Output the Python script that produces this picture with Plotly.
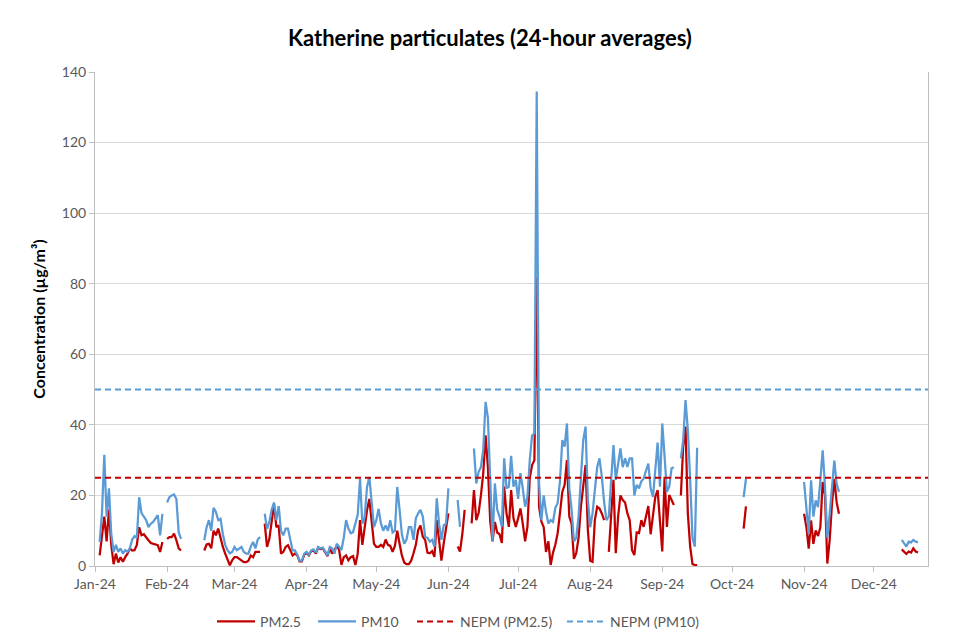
import pandas as pd
import plotly.graph_objects as go

N = None

# Katherine 24-hour averages (µg/m³), one value per day, None = no data
pm10_jan = [N, N, 6.8, 15, 31.5, 14, 22, 9, 4, 6, 4, 5, 3.5, 4.5, 4, 5, 7.5, 8.5, 8, 19.5,
            15, 14, 13, 11, 12, 12.5, 13.5, 14.4, 8.7, 14.8, N]
pm25_jan = [N, N, 3, 9, 14, 7, 16, 6, 0.5, 3.5, 1, 2.5, 1.2, 2.5, 3.5, 5, 4.4, 4.5, 6, 11,
            8.7, 9, 8, 7.3, 6.5, 6.3, 6.3, 5.9, 4, 6.8, N]

pm10_feb = [18, 19.5, 20, 20.3, 19, 9.5, 7.7, N, N, N, N, N, N, N, N, N,
            7.3, 11, 13, 10, 16.5, 15.3, 13, 13.4, 9, 6, 4.5, 3.6, 4]
pm25_feb = [7.7, 8.2, 8.2, 9.2, 7.3, 5, 4.4, N, N, N, N, N, N, N, N, N,
            4.4, 6.1, 6.3, 5, 10, 8.7, 10.6, 7.7, 5.4, 3.5, 1.6, 0.2, 1.6]

pm10_mar = [5.4, 4.5, 4.9, 5.4, 4, 3.5, 3.5, 5.5, 6.8, 5, 7.5, 8.2, N, 14.8, 10.5, 12.5,
            16, 18, 13, 17, 10, 8.7, 10.6, 10.6, 7, 4.4, 4.4, 3.2, 1.5, 1.5, 3.5]
pm25_mar = [2.5, 2.5, 2, 1.6, 1.1, 1.1, 1.5, 3, 2.5, 4, 4, 4, N, 12, 5.4, 7.7,
            13, 17.5, 11, 11.5, 3.5, 4, 5.4, 5.9, 4.5, 3, 3.5, 3, 1.3, 1.3, 3.2]

pm10_apr = [4, 3.2, 4.4, 4.7, 3.8, 5.4, 5, 5.2, 4, 3, 5.4, 5, 3.5, 6.3, 5.5, 4.5,
            8, 13, 10.6, 9.3, 9.6, 12, 14.5, 24.7, 12, 13.9, 22.4, 25.2, 19, 11]
pm25_apr = [3.7, 3, 4.2, 4.4, 3.5, 5.2, 4.8, 5, 3.8, 2.8, 5, 3.5, 4.4, 5.9, 4.5, 0.3,
            2.5, 3, 1.6, 2.5, 2.8, 0.3, 3.5, 13, 6, 11, 15.8, 19, 13, 6.3]

pm10_may = [13, 16.2, 12, 10, 11.5, 10, 13, 9.5, 10, 22.4, 16, 9, 6.3, 7.5, 11, 11,
            7.4, 13.5, 14.9, 15.9, 14, 8.3, 8, 6.9, 7.4, 5.5, 19.2, 12, 7.4, 11.6, 12]
pm25_may = [5.4, 5.4, 6, 5.4, 7.5, 6, 5.7, 4, 5.7, 10, 6.3, 3, 1, 0.5, 0.5, 1.5,
            3.6, 6, 10.2, 11.5, 8.3, 7.4, 3.8, 3.6, 4.2, 2.6, 13, 6.4, 1.5, 6.4, 10.2]

pm10_jun = [22, N, N, N, 18.7, 11.1, N, N, N, N, N, 33.3, 23.4, 26.7, 28, 33,
            46.5, 42, 24, 7, 23.4, 16, 14, 11.1, 30.5, 22, 22.5, 31.2, 22.5, 24.4]
pm25_jun = [14.9, N, N, N, 5.5, 4.1, 9, 15.9, N, N, 12.1, 21.5, 13, 15, 20, 26.3,
            37, 28, 12.6, 7, 12.5, 9.5, 9, 6.5, 22.5, 15, 11.1, 21.5, 13.5, 11.1]

pm10_jul = [19, 26.3, 22, 16.8, 19.6, 30, 37, 37.6, 134.5, 23.4, 13, 20, 15.4, 12, 13, 12.5,
            16.5, 17.8, 24, 35.7, 33.8, 40.4, 22, 16, 7, 8, 14, 24.4, 35.7, 39.5, 18.7]
pm25_jul = [13.5, 16.3, 12, 7, 11.1, 25, 28.6, 30, 82, 16.8, 12.6, 11, 4, 7, 0.3, 3.8,
            6, 9.3, 15, 21, 23, 30, 14, 12, 2, 3.6, 8, 16.8, 22.5, 28.6, 10.2]

pm10_aug = [11, 14.9, 21.5, 28, 30.5, 25.3, 18, 13, 14, 24.4, 34.3, 24.4, 29, 33.3, 28, 30.5,
            28.1, 30.5, 30.5, 20, 23, 22, 24, 24.8, 27, 29, 22, 19.6, 27.2, 35, 22.5]
pm25_aug = [1.5, 1.2, 13, 16.8, 16.3, 14.9, 13, N, 4, 13, 24.4, 3.6, 14, 20, 18.7, 18,
            14.9, 13, 4.5, 3.1, 9.5, 9.3, 13, 11.1, 14.5, 17, 9, 15, 19.6, 21.5, 13]

pm10_sep = [40.4, 31, 21, 22.5, 27.7, 28, N, N, 30.5, 35.7, 47, 38.5, 24.4, 8, 5.5, 33.5,
            N, N, N, N, N, N, N, N, N, N, N, N, N, N]
pm25_sep = [4.1, 25.3, 11.1, 20.1, 18.7, 17.3, N, N, 20, 33.8, 39.5, 14.9, 5.5, 0.5, 0.3, 0.2,
            N, N, N, N, N, N, N, N, N, N, N, N, N, N]

pm10_oct = [N, N, N, N, N, 19.5, 24.7, N, N, N, N, N, N, N, N, N,
            N, N, N, N, N, N, N, N, N, N, N, N, N, N, N]
pm25_oct = [N, N, N, N, N, 10.6, 16.9, N, N, N, N, N, N, N, N, N,
            N, N, N, N, N, N, N, N, N, N, N, N, N, N, N]

pm10_nov = [23.8, 15.8, 9, 24.3, 14, 18.6, 16.7, 24.3, 32.8, 22.4, 8, 14.8, 22.4, 29.9, 23.3, 21,
            N, N, N, N, N, N, N, N, N, N, N, N, N, N]
pm25_nov = [14.8, 11, 4.9, 12.9, 6.3, 10.1, 8.5, 11, 23.8, 20, 0.7, 7.3, 17.7, 24.7, 18.1, 14.8,
            N, N, N, N, N, N, N, N, N, N, N, N, N, N]

pm10_dec = [N, N, N, N, N, N, N, N, N, N, N, N, 7.4, 6.4, 5.5, 6.9,
            6.7, 7.4, 6.9, 6.7, N, N, N, N, N, N, N, N, N, N, N]
pm25_dec = [N, N, N, N, N, N, N, N, N, N, N, N, 4.7, 4.1, 3.4, 4.1,
            3.8, 5, 4.1, 3.8, N, N, N, N, N, N, N, N, N, N, N]

NEPM_PM25 = 25
NEPM_PM10 = 50

pm10 = (pm10_jan + pm10_feb + pm10_mar + pm10_apr + pm10_may + pm10_jun
        + pm10_jul + pm10_aug + pm10_sep + pm10_oct + pm10_nov + pm10_dec)
pm25 = (pm25_jan + pm25_feb + pm25_mar + pm25_apr + pm25_may + pm25_jun
        + pm25_jul + pm25_aug + pm25_sep + pm25_oct + pm25_nov + pm25_dec)
dates = pd.date_range("2024-01-01", "2024-12-31", freq="D")

RED = "#C00000"
BLUE = "#5B9BD5"
FONT = "Lato, 'Open Sans', sans-serif"

fig = go.Figure()
fig.add_trace(go.Scatter(x=dates, y=pm25, mode="lines", name="PM2.5", legend="legend",
                         line=dict(color=RED, width=2.25)))
fig.add_trace(go.Scatter(x=dates, y=pm10, mode="lines", name="PM10", legend="legend2",
                         line=dict(color=BLUE, width=2.25)))
fig.add_trace(go.Scatter(x=[dates[0], dates[-1]], y=[NEPM_PM25, NEPM_PM25], mode="lines",
                         name="NEPM (PM2.5)", legend="legend3",
                         line=dict(color=RED, width=2, dash="6px,4px")))
fig.add_trace(go.Scatter(x=[dates[0], dates[-1]], y=[NEPM_PM10, NEPM_PM10], mode="lines",
                         name="NEPM (PM10)", legend="legend4",
                         line=dict(color=BLUE, width=2, dash="6px,4px")))

x_end = dates[0] + pd.Timedelta(hours=358.3 * 24)


def legend_box(x):
    return dict(orientation="h", x=x, xanchor="left", y=-0.113, yanchor="middle",
                itemwidth=38, font=dict(size=14, color="#595959"), bgcolor="rgba(0,0,0,0)")


# the page body adds an 8px offset, so margins are shifted to compensate
fig.update_layout(
    width=960,
    height=643,
    margin=dict(l=87, r=40, t=64, b=85),
    paper_bgcolor="white",
    plot_bgcolor="white",
    font=dict(family=FONT, size=14, color="#595959"),
    title=dict(text="<b>Katherine particulates (24-hour averages)</b>",
               x=0.502, xanchor="center", y=0.953, yanchor="middle",
               font=dict(family=FONT, size=22, color="black")),
    legend=legend_box(0.1405),
    legend2=legend_box(0.2617),
    legend3=legend_box(0.3806),
    legend4=legend_box(0.5606),
    showlegend=True,
)
fig.update_xaxes(
    type="date", range=[dates[0], x_end], tickformat="%b-%y", dtick="M1", tick0="2024-01-01",
    ticks="outside", ticklen=5, tickcolor="#bfbfbf", showline=True, linecolor="#bfbfbf",
    linewidth=1, showgrid=False, tickfont=dict(size=14, color="#595959"),
)
fig.update_yaxes(
    range=[0, 140], dtick=20, ticks="outside", ticklen=5, tickcolor="#bfbfbf",
    showline=True, linecolor="#bfbfbf", linewidth=1, mirror=True,
    gridcolor="#d9d9d9", zeroline=False, tickfont=dict(size=14, color="#595959"),
    title=dict(text="<b>Concentration (µg/m³)</b>", font=dict(size=16, color="black"), standoff=12),
)

fig.write_html("out.html")
